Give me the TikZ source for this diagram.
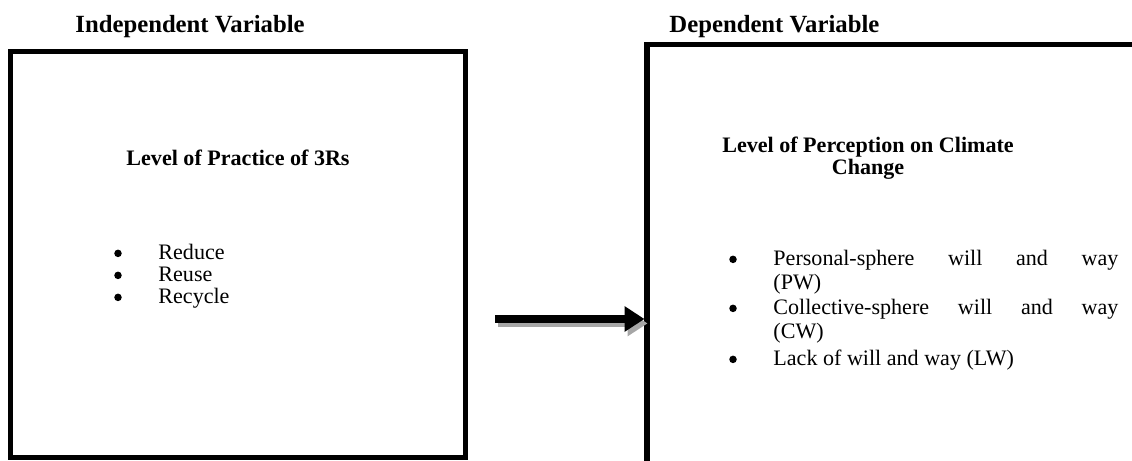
\documentclass[tikz,border=0pt]{standalone}
\usepackage{fontspec}
\setmainfont{Liberation Serif}
\usetikzlibrary{arrows.meta}
\begin{document}
\begin{tikzpicture}[x=0.453pt,y=-0.453pt,
  every node/.style={inner sep=0pt,font=\fontsize{10}{12}\selectfont},
  heading/.style={anchor=base west,font=\fontsize{11.2}{13}\selectfont\bfseries},
  boxtitle/.style={anchor=base,font=\fontsize{10}{12}\selectfont\bfseries},
  varbox/.style={draw,line width=2.27pt},
  bul/.style={circle,fill,minimum size=3.4pt,yshift=3pt},
  itemtxt/.style={anchor=base west},
  link/.style={line width=3.6pt,-{Triangle[length=9pt,width=11pt]}}]
\clip (0,0) rectangle (1132,461);

   \node[heading] (ivlab) at (75,33) {Independent Variable};
   \node[heading] (dvlab) at (669,33) {Dependent Variable};

   \node[varbox,minimum width=206.1pt,minimum height=183.9pt] (ivbox) at (238,254.5) {};
   \node[varbox,minimum width=232.4pt,minimum height=202pt] (dvbox) at (903.5,267) {};

   \node[boxtitle] (ivtitle) at (ivbox.center |- 0,166) {Level of Practice of 3Rs};
   \node[bul] (rb1) at (118,260) {};
   \node[itemtxt] (r1) at (158,260) {Reduce};
   \node[bul] (rb2) at (118,282) {};
   \node[itemtxt] (r2) at (158,282) {Reuse};
   \node[bul] (rb3) at (118,304) {};
   \node[itemtxt] (r3) at (158,304) {Recycle};

   \node[boxtitle] (dvtitle) at (868,153) {Level of Perception on Climate};
   \node[boxtitle] (dvtitle2) at (868,175) {Change};
   \node[bul] (pb1) at (733,266) {};
   \node[itemtxt] (pw) at (773,266) {\makebox[156.3pt][s]{Personal-sphere will and way}};
   \node[itemtxt] (pw2) at (773,290) {(PW)};
   \node[bul] (pb2) at (733,315) {};
   \node[itemtxt] (cw) at (773,315) {\makebox[156.3pt][s]{Collective-sphere will and way}};
   \node[itemtxt] (cw2) at (773,339) {(CW)};
   \node[bul] (pb3) at (733,366) {};
   \node[itemtxt] (lw) at (773,366) {Lack of will and way (LW)};

   \coordinate (astart) at (495,319);
   \draw[link,black!35,transform canvas={xshift=1.4pt,yshift=-2pt}] (astart) -- (dvbox.west |- astart);
   \draw[link] (astart) -- (dvbox.west |- astart);

\end{tikzpicture}
\end{document}
